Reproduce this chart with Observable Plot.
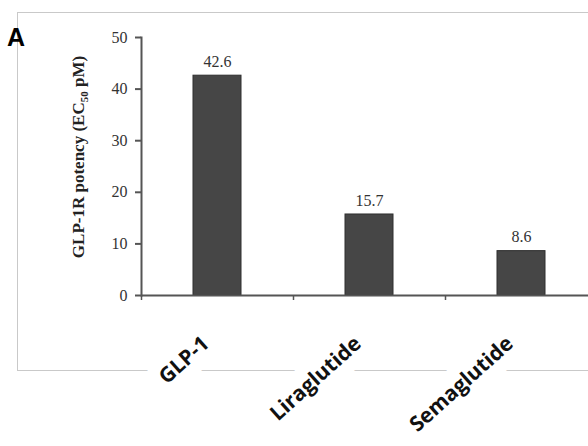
<!DOCTYPE html>
<html>
<head>
<meta charset="utf-8">
<script src="https://cdn.jsdelivr.net/npm/d3@7"></script>
<script src="https://cdn.jsdelivr.net/npm/@observablehq/plot@0.6"></script>
<style>
  html, body { margin: 0; padding: 0; background: #fff; }
  #wrap { position: relative; width: 588px; height: 446px; overflow: hidden; }
  #border { position: absolute; left: 17px; top: 12px; width: 580px; height: 357px;
            border-top: 1.5px solid #c9c9c9; border-left: 1.5px solid #c9c9c9; border-bottom: 1.5px solid #c9c9c9; }
  #chart { position: absolute; left: 0; top: 0; }
  #chart svg { background: transparent !important; }
</style>
</head>
<body>
<div id="wrap">
  <div id="border"></div>
  <div id="chart"></div>
</div>
<script>
const categories = ["GLP-1", "Liraglutide", "Semaglutide"];
const values = [42.6, 15.7, 8.6];
const valueLabels = ["42.6", "15.7", "8.6"];
const yTicks = [0, 10, 20, 30, 40, 50];
const yTitle = ["GLP-1R potency (EC", "50", " pM)"];
const panelLetter = "A";

const data = categories.map((c, i) => ({cat: c, v: values[i], label: valueLabels[i]}));

const W = 588, H = 446;
const xRange = [141, 597];
const step = (xRange[1] - xRange[0]) / categories.length;

const serif = "'Liberation Serif', 'Times New Roman', serif";
const sans = "'Open Sans', 'Liberation Sans', sans-serif";

const chart = Plot.plot({
  width: W,
  height: H,
  marginLeft: 141,
  marginRight: 0,
  marginTop: 37,
  marginBottom: 151,
  style: {background: "transparent", overflow: "visible"},
  x: {domain: categories, range: xRange, paddingInner: 0.684, paddingOuter: 0.342, axis: null},
  y: {domain: [0, 50], axis: null},
  marks: [
    Plot.barY(data, {x: "cat", y: "v", fill: "#464646", stroke: "#2e2e2e", strokeWidth: 1}),
    Plot.text(data, {x: "cat", y: "v", text: "label", dy: -14, fontSize: 16, fontFamily: serif, fill: "#333"}),
    Plot.ruleY([0], {stroke: "#555", strokeWidth: 2}),
    Plot.frame({anchor: "left", stroke: "#555", strokeWidth: 2}),
    Plot.axisY({ticks: yTicks, tickSize: 6, tickPadding: 8, fontSize: 16, fontFamily: serif, color: "#333", stroke: "#555", strokeWidth: 2, label: null, tickFormat: d => String(d)}),
    Plot.ruleX(categories, {x: d => d, dx: -step / 2, y1: 0, y2: 0, insetBottom: -5, stroke: "#555", strokeWidth: 1.5}),
    Plot.text(categories, {x: d => d, frameAnchor: "bottom", dx: -7, dy: 50, rotate: -42, textAnchor: "end",
      fontSize: 21, fontWeight: "bold", fontFamily: sans, fill: "#111", stroke: "white", strokeWidth: 26, strokeLinejoin: "round"})
  ]
});

document.getElementById("chart").appendChild(chart);

const svg = d3.select(chart);
const t = svg.append("text")
  .attr("transform", "translate(84,157) rotate(-90)")
  .attr("text-anchor", "middle")
  .attr("font-family", serif)
  .attr("font-weight", "bold")
  .attr("font-size", 17)
  .attr("fill", "#222");
t.append("tspan").text(yTitle[0]);
t.append("tspan").attr("font-size", 11).attr("dy", 4).text(yTitle[1]);
t.append("tspan").attr("dy", -4).text(yTitle[2]);

svg.append("text")
  .attr("x", 7).attr("y", 46)
  .attr("text-anchor", "start")
  .attr("font-family", "'Liberation Sans', Arial, sans-serif")
  .attr("font-weight", "bold")
  .attr("font-size", 25)
  .attr("fill", "#000")
  .text(panelLetter);
</script>
</body>
</html>
